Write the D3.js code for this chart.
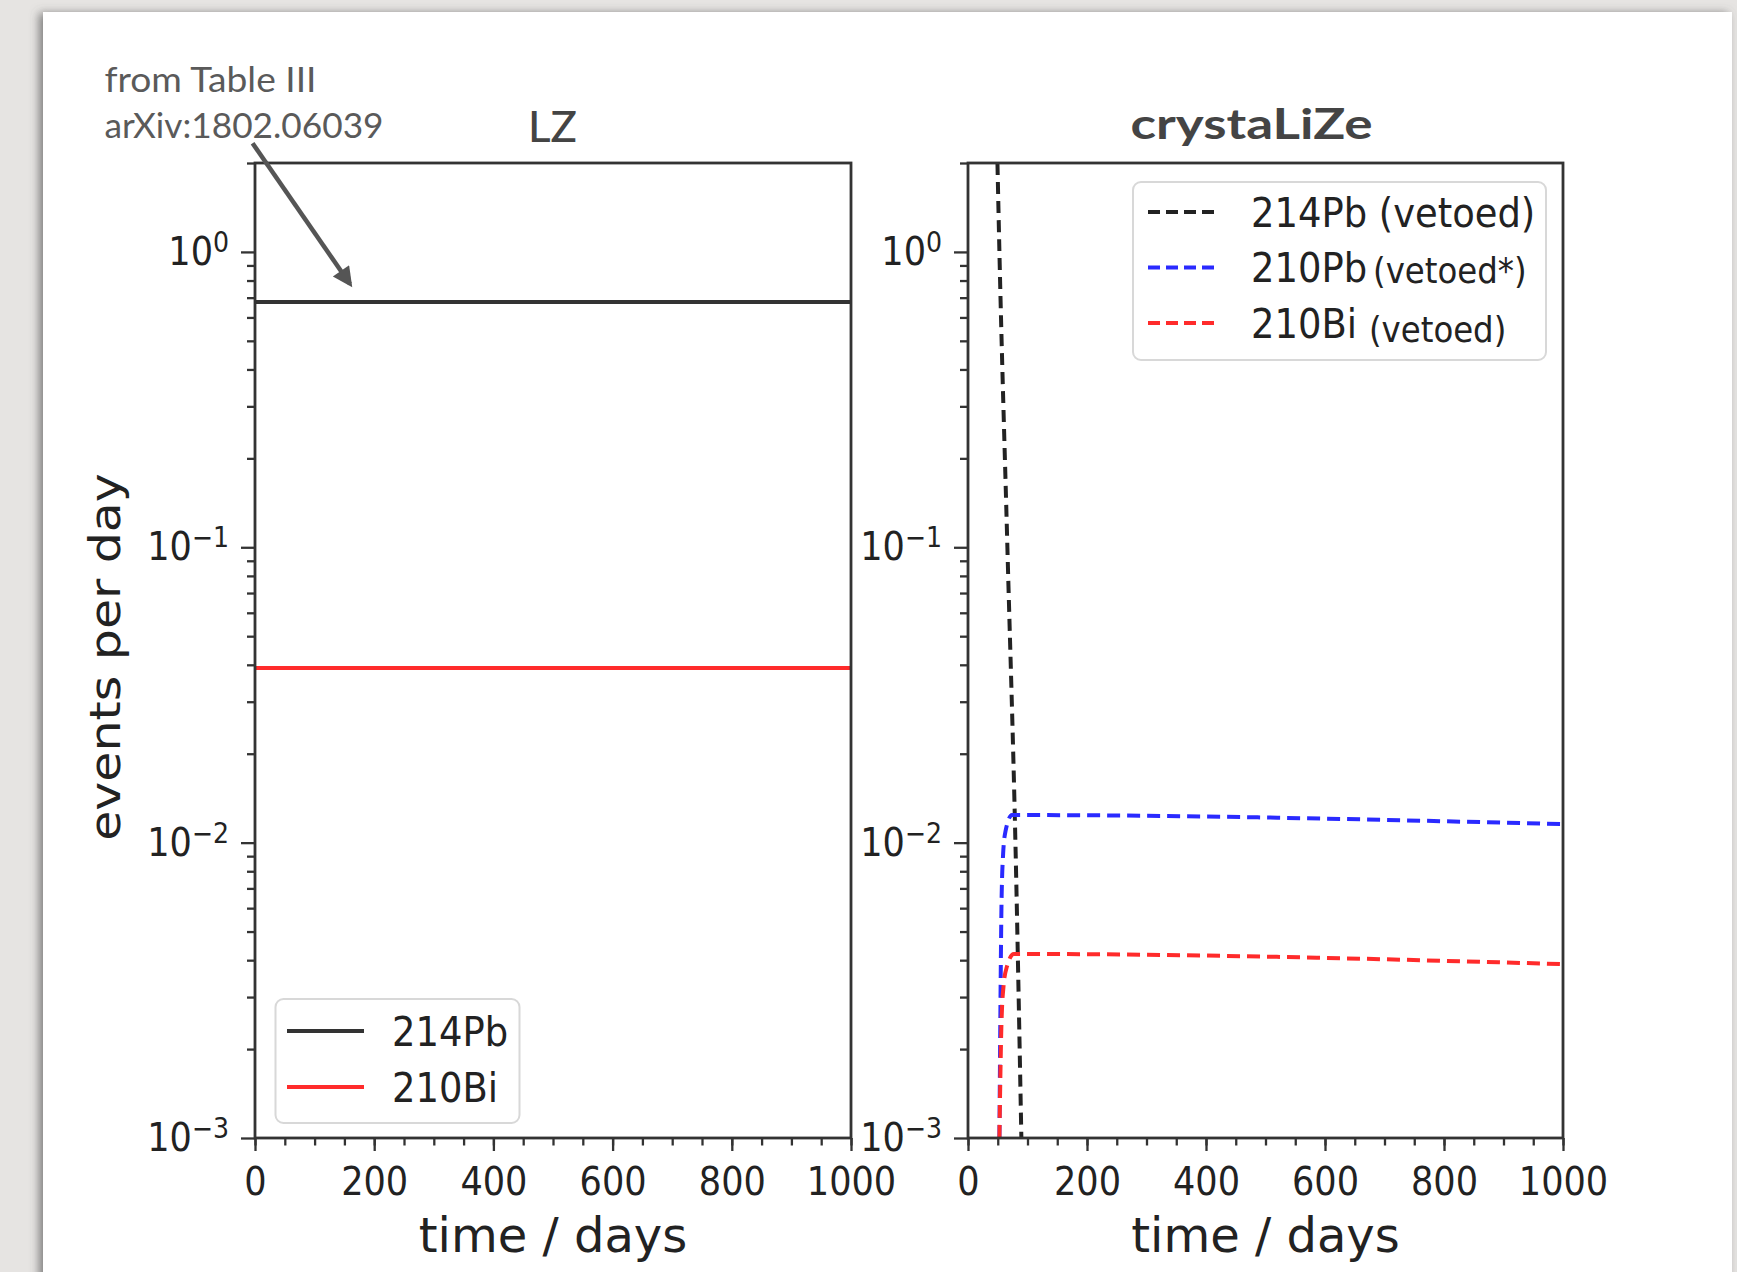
<!DOCTYPE html>
<html>
<head>
<meta charset="utf-8">
<script src="https://cdn.jsdelivr.net/npm/d3@7"></script>
<style>
  html, body { margin: 0; padding: 0; background: #e6e4e2; }
  svg { display: block; }
</style>
</head>
<body>
<div id="chart"></div>
<script>
const W = 1737, H = 1272

// axis ticks
const timeTicks = [0, 200, 400, 600, 800, 1000]
const timeMinor = d3.range(0, 1001, 50)
const yTicks = [1e-3, 1e-2, 1e-1, 1]
const yExponents = ['\u22123', '\u22122', '\u22121', '0']

// LZ panel, rates from Table III (arXiv:1802.06039)
const lzTime = [0, 1000]
const lzPb214 = [0.677, 0.677]
const lzBi210 = [0.039, 0.039]

// crystaLiZe panel, vetoed rates
const czPb214Time = [49.5, 52.8, 66.2, 79.7, 89.7]
const czPb214 = [2.0, 1.0, 0.1, 0.01, 0.001]
const czPb210Time = [52.8, 55, 56.2, 59, 62.9, 74, 1000]
const czPb210 = [0.001, 0.00358, 0.006, 0.00914, 0.0109, 0.0124, 0.01155]
const czBi210Time = [52.8, 56.2, 60, 65.7, 77, 1000]
const czBi210 = [0.001, 0.00243, 0.00331, 0.00382, 0.0042, 0.00388]

const tickFont = 'DejaVu Sans Condensed, DejaVu Sans, sans-serif'
const labelFont = 'DejaVu Sans, sans-serif'
const noteFont = 'Lato, Open Sans, sans-serif'

const svg = d3.select('#chart')
  .append('svg')
  .attr('width', W)
  .attr('height', H)

const defs = svg.append('defs')

const shadow = defs.append('filter').attr('id', 'shadow')
  .attr('x', -0.05).attr('y', -0.05).attr('width', 1.1).attr('height', 1.1)
shadow.append('feDropShadow')
  .attr('dx', -4).attr('dy', 1).attr('stdDeviation', 5)
  .attr('flood-color', '#555').attr('flood-opacity', 0.7)

defs.append('marker')
  .attr('id', 'arrowhead')
  .attr('viewBox', '0 0 10 10')
  .attr('refX', 8).attr('refY', 5)
  .attr('markerWidth', 5).attr('markerHeight', 4.4)
  .attr('markerUnits', 'strokeWidth')
  .attr('orient', 'auto')
  .append('path')
  .attr('d', 'M0,0 L10,5 L0,10 z')
  .attr('fill', '#555')

// slide card
svg.append('rect')
  .attr('x', 43).attr('y', 12)
  .attr('width', 1689).attr('height', 1320)
  .attr('fill', '#fff')
  .attr('filter', 'url(#shadow)')

const y = d3.scaleLog().domain([1e-3, 2]).range([1138, 163])
const yMinor = []
for (let k = -3; k <= 0; k++) {
  for (let m = 2; m <= 9; m++) {
    const v = m * Math.pow(10, k)
    if (v <= 2) yMinor.push(v)
  }
}

const panels = [
  {
    id: 'lz', x0: 255, x1: 851, title: 'LZ', titleX: 552.5, titleY: 141.5,
    titleLen: 49, titleWeight: 500,
    series: [
      { t: lzTime, v: lzPb214, color: '#333', dash: null },
      { t: lzTime, v: lzBi210, color: '#ff2b2b', dash: null }
    ]
  },
  {
    id: 'cz', x0: 968, x1: 1563, title: 'crystaLiZe', titleX: 1251.5, titleY: 138.5,
    titleLen: 242, titleWeight: 700,
    series: [
      { t: czPb214Time, v: czPb214, color: '#222', dash: '12,7' },
      { t: czPb210Time, v: czPb210, color: '#2a2aff', dash: '13,7' },
      { t: czBi210Time, v: czBi210, color: '#ff2b2b', dash: '13,7' }
    ]
  }
]

panels.forEach(p => {
  const x = d3.scaleLinear().domain([0, 1000]).range([p.x0, p.x1])
  const g = svg.append('g')

  defs.append('clipPath').attr('id', 'clip-' + p.id)
    .append('rect')
    .attr('x', p.x0).attr('y', y.range()[1])
    .attr('width', p.x1 - p.x0).attr('height', y.range()[0] - y.range()[1])

  const line = d3.line()
    .x(d => x(d[0]))
    .y(d => y(d[1]))
    .curve(d3.curveMonotoneX)

  g.append('g')
    .attr('clip-path', 'url(#clip-' + p.id + ')')
    .selectAll('path')
    .data(p.series)
    .enter()
    .append('path')
    .attr('d', s => line(d3.zip(s.t, s.v)))
    .attr('fill', 'none')
    .attr('stroke', s => s.color)
    .attr('stroke-width', 4)
    .attr('stroke-dasharray', s => s.dash)

  // frame
  g.append('rect')
    .attr('x', p.x0).attr('y', y.range()[1])
    .attr('width', p.x1 - p.x0).attr('height', y.range()[0] - y.range()[1])
    .attr('fill', 'none')
    .attr('stroke', '#333')
    .attr('stroke-width', 2.8)

  // y axis
  const yAxisG = g.append('g').attr('transform', `translate(${p.x0},0)`)
  yAxisG.append('g')
    .call(d3.axisLeft(y).tickValues(yMinor).tickSize(8).tickFormat(''))
  yAxisG.append('g')
    .call(d3.axisLeft(y).tickValues(yTicks).tickSize(14).tickPadding(12).tickFormat(''))
    .selectAll('.tick text')
    .each(function (d, i) {
      const t = d3.select(this)
      t.append('tspan').text('10')
      t.append('tspan').attr('dy', -13).attr('font-size', 28).text(yExponents[i])
    })

  // x axis
  const xAxisG = g.append('g').attr('transform', `translate(0,${y.range()[0]})`)
  xAxisG.append('g')
    .call(d3.axisBottom(x).tickValues(timeMinor).tickSize(7.5).tickFormat(''))
  xAxisG.append('g')
    .call(d3.axisBottom(x).tickValues(timeTicks).tickSize(13).tickPadding(16).tickFormat(d3.format('d')))

  g.selectAll('.domain').remove()
  g.selectAll('.tick line').attr('stroke', '#333').attr('stroke-width', 2.3)
  g.selectAll('.tick text')
    .attr('font-family', tickFont)
    .attr('font-size', 39)
    .attr('fill', '#222')

  // axis label
  g.append('text')
    .attr('x', (p.x0 + p.x1) / 2)
    .attr('y', 1252)
    .attr('text-anchor', 'middle')
    .attr('font-family', labelFont)
    .attr('font-size', 48)
    .attr('fill', '#222')
    .text('time / days')

  // title
  g.append('text')
    .attr('x', p.titleX)
    .attr('y', p.titleY)
    .attr('text-anchor', 'middle')
    .attr('font-family', noteFont)
    .attr('font-weight', p.titleWeight)
    .attr('font-size', 42)
    .attr('fill', '#444')
    .attr('textLength', p.titleLen)
    .attr('lengthAdjust', 'spacingAndGlyphs')
    .text(p.title)
})

// y label
svg.append('text')
  .attr('transform', 'translate(120,657) scale(0.87,1) rotate(-90)')
  .attr('text-anchor', 'middle')
  .attr('font-family', labelFont)
  .attr('font-size', 49)
  .attr('fill', '#222')
  .text('events per day')

// annotation
const notes = [
  { text: 'from Table III', y: 91.5, len: 212 },
  { text: 'arXiv:1802.06039', y: 138, len: 279 }
]
svg.selectAll('.note')
  .data(notes)
  .enter()
  .append('text')
  .attr('class', 'note')
  .attr('x', 104.5)
  .attr('y', d => d.y)
  .attr('font-family', noteFont)
  .attr('font-size', 35)
  .attr('fill', '#5a5a5a')
  .attr('textLength', d => d.len)
  .attr('lengthAdjust', 'spacingAndGlyphs')
  .text(d => d.text)

svg.append('line')
  .attr('x1', 252.6).attr('y1', 143.3)
  .attr('x2', 350).attr('y2', 284)
  .attr('stroke', '#555')
  .attr('stroke-width', 4.5)
  .attr('marker-end', 'url(#arrowhead)')

// LZ legend
const lzLegend = [
  { label: '214Pb', color: '#333' },
  { label: '210Bi', color: '#ff2b2b' }
]
const lg = svg.append('g')
lg.append('rect')
  .attr('x', 275.5).attr('y', 999)
  .attr('width', 244).attr('height', 124)
  .attr('rx', 8)
  .attr('fill', '#fff').attr('fill-opacity', 0.85)
  .attr('stroke', '#d8d8d8').attr('stroke-width', 2)
const lgItems = lg.selectAll('g.item')
  .data(lzLegend)
  .enter()
  .append('g')
  .attr('transform', (d, i) => `translate(0,${1031 + i * 56})`)
lgItems.append('line')
  .attr('x1', 287).attr('x2', 364)
  .attr('stroke', d => d.color)
  .attr('stroke-width', 4)
lgItems.append('text')
  .attr('x', 392).attr('y', 14.5)
  .attr('font-family', tickFont)
  .attr('font-size', 41)
  .attr('fill', '#222')
  .text(d => d.label)

// crystaLiZe legend
const czLegend = [
  { label: '214Pb', note: ' (vetoed)', color: '#222', noteSize: 41, dx: 0, dy: 0 },
  { label: '210Pb', note: '(vetoed*)', color: '#2a2aff', noteSize: 36, dx: 6, dy: 1 },
  { label: '210Bi', note: '(vetoed)', color: '#ff2b2b', noteSize: 36, dx: 12, dy: 4 }
]
const rg = svg.append('g')
rg.append('rect')
  .attr('x', 1133).attr('y', 182)
  .attr('width', 413).attr('height', 178)
  .attr('rx', 8)
  .attr('fill', '#fff').attr('fill-opacity', 0.85)
  .attr('stroke', '#d8d8d8').attr('stroke-width', 2)
const rgItems = rg.selectAll('g.item')
  .data(czLegend)
  .enter()
  .append('g')
  .attr('transform', (d, i) => `translate(0,${212 + i * 55.5})`)
rgItems.append('line')
  .attr('x1', 1148).attr('x2', 1220)
  .attr('stroke', d => d.color)
  .attr('stroke-width', 4)
  .attr('stroke-dasharray', '12,6')
const rgText = rgItems.append('text')
  .attr('x', 1251).attr('y', 14.5)
  .attr('font-family', tickFont)
  .attr('font-size', 41)
  .attr('fill', '#222')
rgText.append('tspan').text(d => d.label)
rgText.append('tspan')
  .attr('dx', d => d.dx)
  .attr('dy', d => d.dy)
  .attr('font-size', d => d.noteSize)
  .text(d => d.note)
</script>
</body>
</html>
